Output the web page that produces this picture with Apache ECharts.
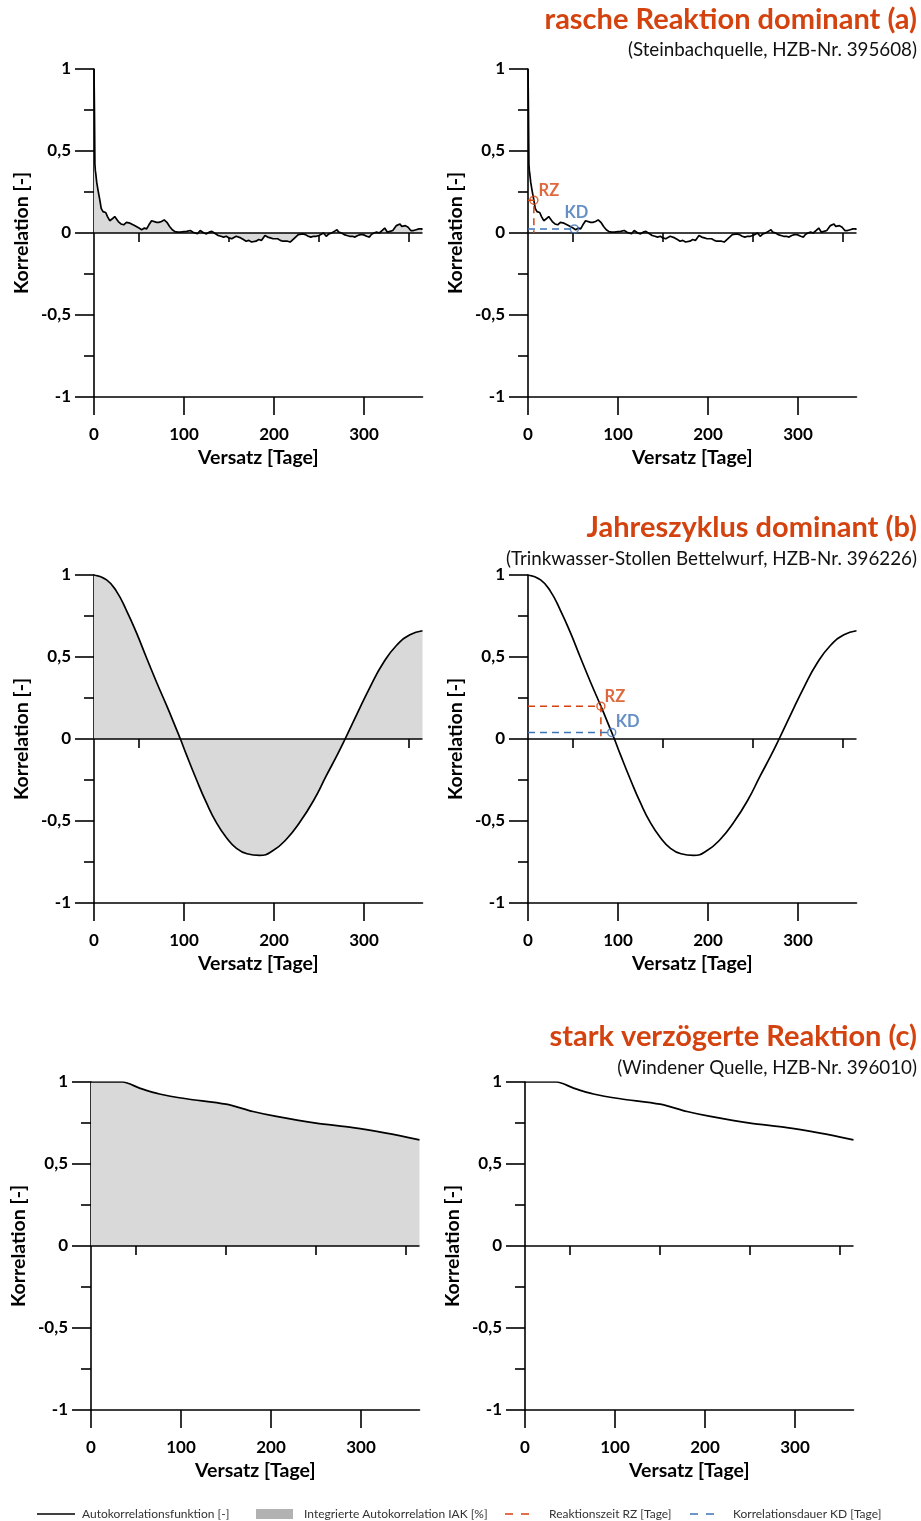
<!DOCTYPE html>
<html><head><meta charset="utf-8">
<script src="https://cdn.jsdelivr.net/npm/echarts@6/dist/echarts.min.js"></script>
<style>html,body{margin:0;padding:0;background:#fff}#c{width:921px;height:1521px}</style>
</head><body><div id="c"></div>
<script>
// ---- data ----
const xTicks = [0, 100, 200, 300];
const xMinorTicks = [50, 150, 250, 350];
const lagA = [0,0.5,1,1.5,2,3,4.5,6.5,8,10,13,15,17.5,20,23,25,27,30,33,36,38,40,42,45,47,50,53,56,58.5,61,64,66,69.6,72,75,78,81,84,87,90,93,96,100,103,107,110,112,115,118,120,122,125,128,131,133,135,138,141,144,147,150,153,155,158,160,163,166,169,172,175,177,180,183,186,190,193,196,199,201,204,207,210,212,215,218,221,224,227,229,232,235,238,241,244,247,250,252,255,258,261,264,267,270,272,275,278,281,284,287,290,293,296,299,301,303,306,308,311,314,317,320,323,326,329,332,334,336,338,340,342,344,346,349,352,355,358,361,364,365];
const acfA = [1,0.75,0.42,0.38,0.36,0.31,0.26,0.2,0.15,0.13,0.125,0.1,0.075,0.085,0.1,0.085,0.07,0.055,0.05,0.065,0.055,0.06,0.05,0.045,0.035,0.03,0.02,0.03,0.025,0.05,0.075,0.065,0.065,0.065,0.07,0.08,0.065,0.04,0.02,0.008,0.005,0.005,0.008,0.01,0.015,0.005,0,-0.005,0.015,0.02,0,-0.005,0.005,0.01,0.01,-0.005,-0.015,-0.02,-0.025,-0.02,-0.03,-0.035,-0.03,-0.02,-0.015,-0.03,-0.04,-0.05,-0.045,-0.055,-0.063,-0.05,-0.04,-0.045,-0.015,-0.025,-0.03,-0.035,-0.04,-0.035,-0.045,-0.05,-0.055,-0.05,-0.055,-0.04,-0.025,-0.01,0,-0.005,-0.01,-0.02,-0.025,-0.02,-0.02,-0.015,-0.005,0,-0.02,-0.005,0,0.01,0.02,0.005,0,-0.01,-0.015,-0.02,-0.02,-0.025,-0.015,-0.01,-0.01,-0.01,-0.02,-0.025,-0.01,0,0.005,0,0.015,0.03,0.005,0.01,0.015,0.03,0.045,0.035,0.055,0.04,0.03,0.045,0.035,0.015,0.015,0.02,0.025,0.025,0.02,0.02];
const lagB = [0,14,25,36,47,58,70,81,93,96,103,114,125,136,147,158,170,184,199,214,229,244,258,270,279,292,307,321,336,351,365];
const acfB = [1,0.97,0.9,0.785,0.65,0.5,0.34,0.2,0.04,0,-0.1,-0.25,-0.39,-0.51,-0.6,-0.665,-0.7,-0.71,-0.68,-0.61,-0.505,-0.375,-0.225,-0.1,0,0.15,0.32,0.46,0.57,0.635,0.66];
const lagC = [0,35,54,76,106,150,180,206,250,291,328,365];
const acfC = [1,1,0.963,0.927,0.898,0.865,0.82,0.79,0.749,0.722,0.688,0.647];
const rzA = [6.5, 0.2], kdA = [51.5, 0.025];
const rzB = [81, 0.2], kdB = [93, 0.04];

const FONT = 'Lato';
const RED = '#D4430F', BLUE = '#3F73B6', FILL = '#D9D9D9';
const zip = (a, b) => a.map((v, i) => [v, b[i]]);

const panels = [
  {left:94, top:69, lag:lagA, acf:acfA, fill:true, smooth:false},
  {left:528, top:69, lag:lagA, acf:acfA, fill:false, smooth:false, rz:rzA, kd:kdA, rzOff:[15,-10], kdOff:[2,-16]},
  {left:94, top:575, lag:lagB, acf:acfB, fill:true, smooth:0.5},
  {left:528, top:575, lag:lagB, acf:acfB, fill:false, smooth:0.5, rz:rzB, kd:kdB, rzOff:[14,-10], kdOff:[16,-11]},
  {left:91, top:1082, lag:lagC, acf:acfC, fill:true, smooth:0.3},
  {left:525, top:1082, lag:lagC, acf:acfC, fill:false, smooth:0.3}
];

const grid = [], xAxis = [], yAxis = [], series = [];
panels.forEach((p, i) => {
  grid.push({left:p.left, top:p.top, width:328.5, height:328});
  xAxis.push({
    type:'value', gridIndex:i, min:0, max:365,
    name:'Versatz [Tage]', nameLocation:'middle', nameGap:51,
    nameTextStyle:{fontFamily:FONT, fontWeight:'bold', fontSize:19.5, color:'#000'},
    axisLine:{show:true, onZero:false, lineStyle:{color:'#000', width:1.6}},
    axisTick:{show:true, customValues:xTicks, length:18, lineStyle:{color:'#000', width:1.6}},
    axisLabel:{show:true, customValues:xTicks, margin:29, fontFamily:FONT, fontWeight:'bold', fontSize:17, color:'#000'},
    splitLine:{show:false}, minorTick:{show:false}
  });
  xAxis.push({
    type:'value', gridIndex:i, min:0, max:365, position:'bottom',
    axisLine:{show:false},
    axisTick:{show:true, customValues:xMinorTicks, length:9, lineStyle:{color:'#000', width:1.6}},
    axisLabel:{show:false}, splitLine:{show:false}
  });
  yAxis.push({
    type:'value', gridIndex:i, min:-1, max:1, interval:0.5,
    name:'Korrelation [-]', nameLocation:'middle', nameGap:62, nameRotate:90,
    nameTextStyle:{fontFamily:FONT, fontWeight:'bold', fontSize:19.5, color:'#000'},
    axisLine:{show:true, onZero:false, lineStyle:{color:'#000', width:1.6}},
    axisTick:{show:true, length:19, lineStyle:{color:'#000', width:1.6}},
    minorTick:{show:true, splitNumber:2, length:10, lineStyle:{color:'#000', width:1.6}},
    axisLabel:{margin:23, fontFamily:FONT, fontWeight:'bold', fontSize:17, color:'#000',
      formatter: v => String(v).replace('.', ',')},
    splitLine:{show:false}, minorSplitLine:{show:false}
  });
  const xi = i * 2;
  const acfSeries = {
    type:'line', xAxisIndex:xi, yAxisIndex:i, data:zip(p.lag, p.acf),
    showSymbol:false, symbol:'none', smooth:p.smooth, silent:true, z:3,
    lineStyle:{color:'#000', width:1.7}
  };
  if (p.fill) acfSeries.areaStyle = {color:FILL, opacity:1};
  series.push(acfSeries);
  series.push({type:'line', xAxisIndex:xi, yAxisIndex:i, data:[[0,0],[365,0]],
    symbol:'none', silent:true, z:4, lineStyle:{color:'#000', width:1.6}});
  if (p.rz) {
    series.push({type:'line', xAxisIndex:xi, yAxisIndex:i,
      data:[[0,p.rz[1]],[p.rz[0],p.rz[1]],[p.rz[0],0]], symbol:'none', silent:true, z:5,
      lineStyle:{color:RED, width:1.5, type:[7,5]}});
    series.push({type:'line', xAxisIndex:xi, yAxisIndex:i,
      data:[[0,p.kd[1]],[p.kd[0],p.kd[1]]], symbol:'none', silent:true, z:5,
      lineStyle:{color:BLUE, width:1.5, type:[7,5]}});
    [[p.rz, RED, 'RZ', p.rzOff],[p.kd, BLUE, 'KD', p.kdOff]].forEach(([pt, col, txt, off]) => {
      series.push({type:'scatter', xAxisIndex:xi, yAxisIndex:i, data:[pt], silent:true, z:6,
        symbol:'circle', symbolSize:8,
        itemStyle:{color:'rgba(255,255,255,0)', borderColor:col, borderWidth:1.5},
        label:{show:true, formatter:txt, position:'inside', offset:off,
          fontFamily:FONT, fontWeight:'bold', fontSize:16.5, color:col}});
    });
  }
});

const titles = [
  ['rasche Reaktion dominant (a)', '(Steinbachquelle, HZB-Nr. 395608)', 5, 40],
  ['Jahreszyklus dominant (b)', '(Trinkwasser-Stollen Bettelwurf, HZB-Nr. 396226)', 513, 549],
  ['stark verzögerte Reaktion (c)', '(Windener Quelle, HZB-Nr. 396010)', 1022, 1058]
];
const title = [];
titles.forEach(([t, s, tt, st]) => {
  title.push({text:t, right:4, top:tt, padding:0,
    textStyle:{fontFamily:FONT, fontWeight:'bold', fontSize:29, color:RED}});
  title.push({text:s, right:4, top:st, padding:0,
    textStyle:{fontFamily:FONT, fontWeight:'normal', fontSize:18.8, color:'#111'}});
});

const LY = 1514;
const lt = {fontFamily:FONT, fontSize:12, fill:'#333', verticalAlign:'middle'};
const graphic = [
  {type:'line', shape:{x1:37, y1:LY, x2:75, y2:LY}, style:{stroke:'#000', lineWidth:1.5}},
  {type:'text', x:82, y:LY, style:Object.assign({text:'Autokorrelationsfunktion [-]'}, lt)},
  {type:'rect', shape:{x:256, y:LY-5, width:37, height:10}, style:{fill:'#B2B2B2'}},
  {type:'text', x:304, y:LY, style:Object.assign({text:'Integrierte Autokorrelation IAK [%]'}, lt)},
  {type:'line', shape:{x1:505, y1:LY, x2:529, y2:LY}, style:{stroke:RED, lineWidth:1.5, lineDash:[8,8]}},
  {type:'text', x:549, y:LY, style:Object.assign({text:'Reaktionszeit RZ [Tage]'}, lt)},
  {type:'line', shape:{x1:690, y1:LY, x2:714, y2:LY}, style:{stroke:BLUE, lineWidth:1.5, lineDash:[8,8]}},
  {type:'text', x:733, y:LY, style:Object.assign({text:'Korrelationsdauer KD [Tage]'}, lt)}
];

const chart = echarts.init(document.getElementById('c'), null, {renderer:'canvas'});
chart.setOption({animation:false, backgroundColor:'#fff', title, grid, xAxis, yAxis, series, graphic});
</script>
</body></html>
